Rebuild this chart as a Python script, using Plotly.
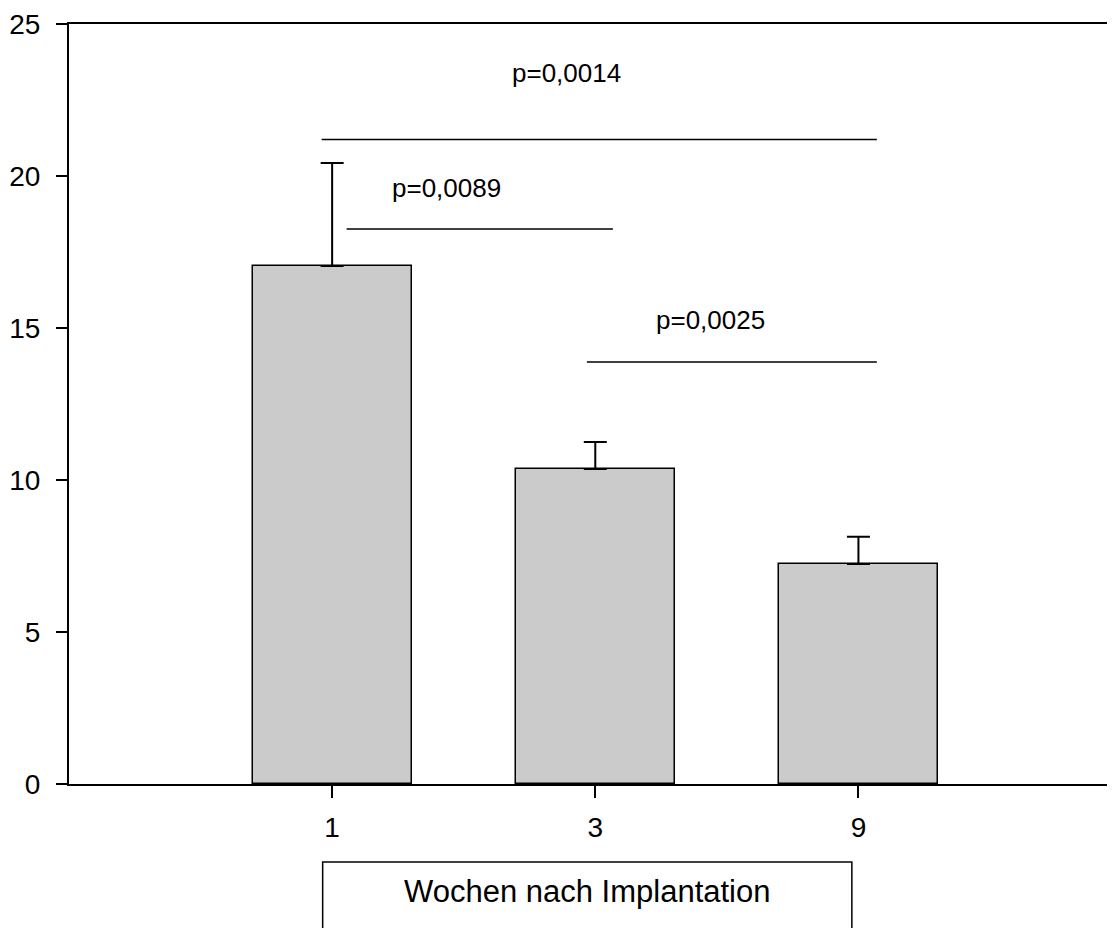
import plotly.graph_objects as go

# Data
weeks = ["1", "3", "9"]
means = [17.04, 10.36, 7.24]
err_upper = [3.39, 0.89, 0.89]

sig_labels = ["p=0,0014", "p=0,0089", "p=0,0025"]
sig_line_y = [21.2, 18.26, 13.88]
sig_line_x0 = [-0.04, 0.055, 0.968]
sig_line_x1 = [2.07, 1.067, 2.07]
sig_text_x = [0.892, 0.435, 1.439]
sig_text_y = [23.4, 19.6, 15.26]

y_ticks = [0, 5, 10, 15, 20, 25]
x_title = "Wochen nach Implantation"

FONT = "Liberation Sans, Arial, sans-serif"

fig = go.Figure()
fig.add_trace(go.Bar(
    x=weeks, y=means, width=0.605,
    marker=dict(color="#cbcbcb", line=dict(color="black", width=1.5)),
    error_y=dict(type="data", symmetric=False, array=err_upper,
                 arrayminus=[0] * len(means), color="black",
                 thickness=2, width=11.5),
    showlegend=False,
))

shapes = []
annotations = []
for lab, ly, x0, x1, tx, ty in zip(sig_labels, sig_line_y, sig_line_x0,
                                   sig_line_x1, sig_text_x, sig_text_y):
    shapes.append(dict(type="line", xref="x", yref="y", x0=x0, x1=x1,
                       y0=ly, y1=ly, line=dict(color="black", width=1.5)))
    annotations.append(dict(x=tx, y=ty, xref="x", yref="y", text=lab,
                            showarrow=False,
                            font=dict(family=FONT, size=26, color="black")))

# axis title box
shapes.append(dict(type="rect", xref="x", yref="paper", x0=-0.036, x1=1.975,
                   y0=-0.1026, y1=-0.25, line=dict(color="black", width=1.5),
                   fillcolor="white", layer="above"))
annotations.append(dict(x=0.97, y=-0.142, xref="x", yref="paper", text=x_title,
                        showarrow=False, yanchor="middle",
                        font=dict(family=FONT, size=31, color="black")))

fig.update_layout(
    width=1107, height=920,
    margin=dict(l=61, r=0, t=16, b=144),
    paper_bgcolor="white", plot_bgcolor="white",
    font=dict(family=FONT, size=28, color="black"),
    shapes=shapes, annotations=annotations,
    bargap=0,
)
fig.update_xaxes(
    type="category", range=[-1.0, 2.975],
    showline=True, linecolor="black", linewidth=2, mirror=True,
    ticks="outside", ticklen=12, tickwidth=1.5, tickcolor="black",
    showgrid=False, zeroline=False, ticklabelstandoff=5,
    tickfont=dict(family=FONT, size=28, color="black"),
)
fig.update_yaxes(
    range=[0, 25], tickvals=y_ticks,
    showline=True, linecolor="black", linewidth=2,
    ticks="outside", ticklen=11, tickwidth=2, tickcolor="black",
    showgrid=False, zeroline=False, ticklabelstandoff=10,
    tickfont=dict(family=FONT, size=28, color="black"),
)

fig.write_html("out.html")
